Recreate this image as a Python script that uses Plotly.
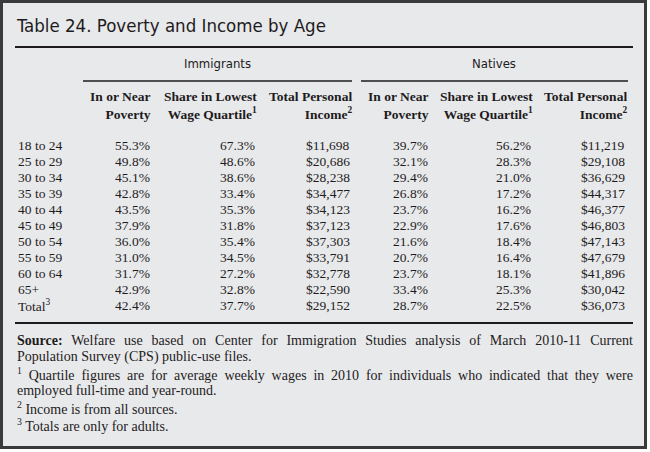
import plotly.graph_objects as go

title = "Table 24. Poverty and Income by Age"
groups = ["Immigrants", "Natives"]
col_headers = ["In or Near<br>Poverty", "Share in Lowest<br>Wage Quartile<sup>1</sup>", "Total Personal<br>Income<sup>2</sup>"]
ages = ["18 to 24", "25 to 29", "30 to 34", "35 to 39", "40 to 44", "45 to 49",
        "50 to 54", "55 to 59", "60 to 64", "65+", "Total<sup>3</sup>"]
imm_poverty = [55.3, 49.8, 45.1, 42.8, 43.5, 37.9, 36.0, 31.0, 31.7, 42.9, 42.4]
imm_share = [67.3, 48.6, 38.6, 33.4, 35.3, 31.8, 35.4, 34.5, 27.2, 32.8, 37.7]
imm_income = [11698, 20686, 28238, 34477, 34123, 37123, 37303, 33791, 32778, 22590, 29152]
nat_poverty = [39.7, 32.1, 29.4, 26.8, 23.7, 22.9, 21.6, 20.7, 23.7, 33.4, 28.7]
nat_share = [56.2, 28.3, 21.0, 17.2, 16.2, 17.6, 18.4, 16.4, 18.1, 25.3, 22.5]
nat_income = [11219, 29108, 36629, 44317, 46377, 46803, 47143, 47679, 41896, 30042, 36073]
notes = [
    "<b>Source:</b> Welfare use based on Center for Immigration Studies analysis of March 2010-11 Current",
    "Population Survey (CPS) public-use files.",
    "<sup>1</sup> Quartile figures are for average weekly wages in 2010 for individuals who indicated that they were",
    "employed full-time and year-round.",
    "<sup>2</sup> Income is from all sources.",
    "<sup>3</sup> Totals are only for adults.",
]

SERIF = "Liberation Serif, Times New Roman, serif"
NARROW = "DejaVu Sans Condensed, Liberation Sans Narrow, Arial Narrow, sans-serif"
INK = "#1e1b1c"
BG = "#e8e9eb"

fig = go.Figure()
fig.add_trace(go.Scatter(x=[0, 650], y=[0, 452], mode="markers",
                         marker=dict(opacity=0), hoverinfo="skip", showlegend=False))

ann = []
def A(x, y, text, size=13.5, font=SERIF, xanchor="right", align="right", bold=False):
    ann.append(dict(x=x, y=y, xref="x", yref="y", text=("<b>%s</b>" % text) if bold else text,
                    showarrow=False, xanchor=xanchor, yanchor="middle", align=align,
                    font=dict(family=font, size=size, color=INK)))

A(14, 25, title, size=18.5, font=NARROW, xanchor="left", align="left")
group_centers = [217, 494]
for g, cx in zip(groups, group_centers):
    A(cx, 63, g, size=13, font=NARROW, xanchor="center", align="center")

col_x = [152, 257, 352, 430, 533, 627]
for i, h in enumerate(col_headers * 2):
    A(col_x[i] + (2 if i % 3 != 0 else 1), 105, h, size=13.5, bold=True)

row_y = [145 + 16 * i for i in range(len(ages))]
for i, a in enumerate(ages):
    A(16, row_y[i], a, xanchor="left", align="left")
cols = [
    ["%.1f%%" % v for v in imm_poverty],
    ["%.1f%%" % v for v in imm_share],
    ["${:,}".format(v) for v in imm_income],
    ["%.1f%%" % v for v in nat_poverty],
    ["%.1f%%" % v for v in nat_share],
    ["${:,}".format(v) for v in nat_income],
]
for c, vals in enumerate(cols):
    for i, t in enumerate(vals):
        A(col_x[c], row_y[i], t)

for i, n in enumerate(notes):
    A(15, 340 + 16.9 * i, n, size=14, xanchor="left", align="left")

shapes = [
    dict(type="rect", x0=1.5, x1=645.5, y0=1.5, y1=447.5, xref="x", yref="y",
         line=dict(color="#3a3a3a", width=3), fillcolor=BG, layer="below"),
    dict(type="line", x0=15, x1=633, y0=47, y1=47, xref="x", yref="y", line=dict(color=INK, width=2)),
    dict(type="line", x0=83, x1=352, y0=81, y1=81, xref="x", yref="y", line=dict(color=INK, width=1.6)),
    dict(type="line", x0=361, x1=628, y0=81, y1=81, xref="x", yref="y", line=dict(color=INK, width=1.6)),
    dict(type="line", x0=15, x1=633, y0=323, y1=323, xref="x", yref="y", line=dict(color=INK, width=2)),
]

fig.update_layout(
    width=650, height=452, margin=dict(l=0, r=0, t=0, b=0),
    paper_bgcolor="white", plot_bgcolor="white",
    xaxis=dict(range=[0, 650], visible=False, fixedrange=True),
    yaxis=dict(range=[452, 0], visible=False, fixedrange=True),
    annotations=ann, shapes=shapes, showlegend=False,
)

post = """
document.body.style.margin = '0';
var gd = document.getElementById('{plot_id}');
var texts = gd.querySelectorAll('text.annotation-text');
texts.forEach(function(t) {
  var s = t.textContent;
  if (s.indexOf('Source:') === 0 || s.indexOf('Quartile figures') >= 0) {
    var len = t.getComputedTextLength();
    var n = (s.match(/ /g) || []).length;
    var target = 616;
    if (n > 0 && len < target) {
      t.setAttribute('word-spacing', ((target - len) / n).toFixed(2));
    }
  }
});
"""
fig.write_html("out.html", post_script=post, config={"displayModeBar": False, "staticPlot": True})
